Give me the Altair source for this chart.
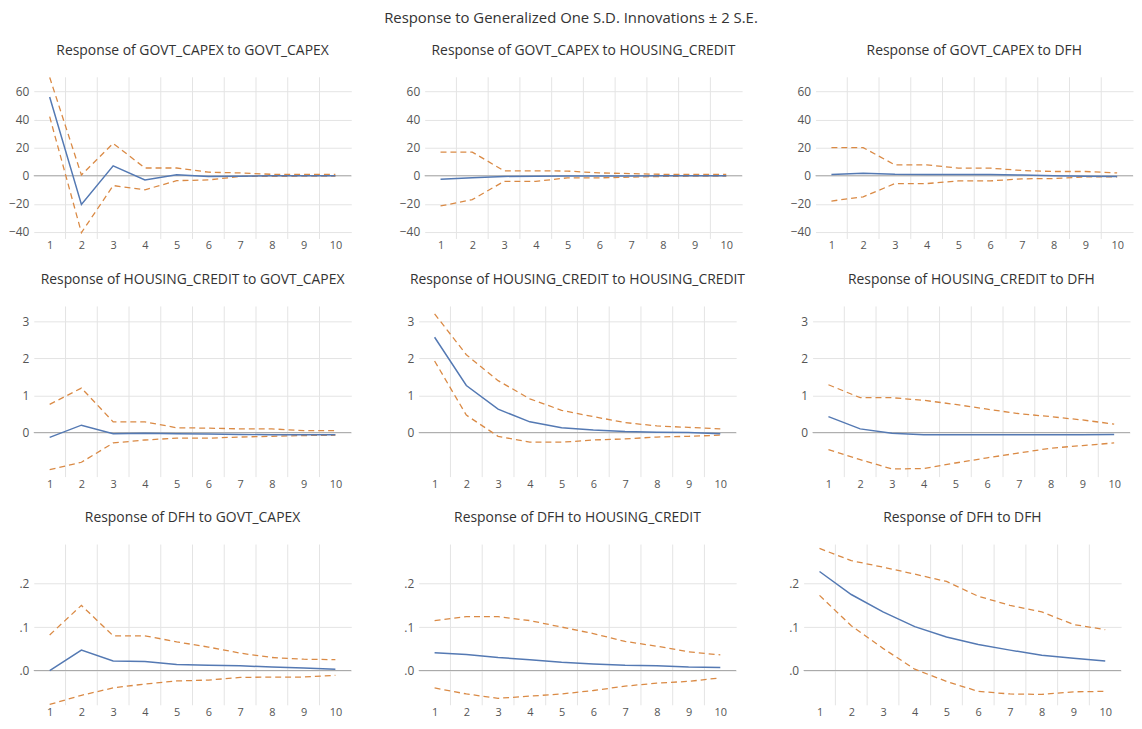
import altair as alt
import pandas as pd

steps = list(range(1, 11))

titles = [
    "Response of GOVT_CAPEX to GOVT_CAPEX",
    "Response of GOVT_CAPEX to HOUSING_CREDIT",
    "Response of GOVT_CAPEX to DFH",
    "Response of HOUSING_CREDIT to GOVT_CAPEX",
    "Response of HOUSING_CREDIT to HOUSING_CREDIT",
    "Response of HOUSING_CREDIT to DFH",
    "Response of DFH to GOVT_CAPEX",
    "Response of DFH to HOUSING_CREDIT",
    "Response of DFH to DFH",
]

resp = [
    [56, -20.5, 7, -3, 0.7, -0.5, -0.3, 0, 0, 0],
    [-2.5, -1.5, -0.5, -0.3, -0.2, -0.2, -0.2, -0.1, -0.1, -0.1],
    [0.8, 1.8, 1.0, 0.8, 0.8, 0.8, 0.5, 0, -0.3, -0.5],
    [-0.13, 0.2, -0.03, -0.02, -0.03, -0.04, -0.05, -0.06, -0.06, -0.06],
    [2.57, 1.27, 0.63, 0.29, 0.13, 0.07, 0.03, 0.01, 0.0, -0.03],
    [0.43, 0.1, -0.02, -0.06, -0.06, -0.06, -0.06, -0.06, -0.06, -0.05],
    [0.0, 0.047, 0.022, 0.021, 0.014, 0.012, 0.011, 0.008, 0.006, 0.003],
    [0.041, 0.037, 0.030, 0.025, 0.019, 0.015, 0.012, 0.011, 0.008, 0.007],
    [0.228, 0.175, 0.135, 0.101, 0.077, 0.060, 0.047, 0.035, 0.028, 0.022],
]

upper = [
    [70, 0.5, 23, 5.5, 5.5, 2.5, 2, 1, 1, 1],
    [16.8, 16.8, 3.5, 3.5, 3.3, 2, 1.5, 1, 1, 1],
    [20, 20, 7.7, 7.7, 5.4, 5.4, 3.7, 3, 3, 2],
    [0.76, 1.2, 0.29, 0.29, 0.13, 0.12, 0.1, 0.1, 0.05, 0.05],
    [3.2, 2.1, 1.4, 0.91, 0.6, 0.43, 0.27, 0.18, 0.14, 0.1],
    [1.29, 0.94, 0.94, 0.87, 0.76, 0.63, 0.51, 0.43, 0.34, 0.23],
    [0.082, 0.15, 0.08, 0.08, 0.066, 0.054, 0.04, 0.03, 0.026, 0.025],
    [0.115, 0.124, 0.124, 0.115, 0.1, 0.085, 0.067, 0.056, 0.043, 0.036],
    [0.281, 0.253, 0.238, 0.222, 0.205, 0.171, 0.15, 0.135, 0.106, 0.094],
]

lower = [
    [42, -40.5, -7, -10, -3.5, -3, -0.5, -0.5, -0.3, -0.3],
    [-21.5, -17, -4, -4, -1.5, -1.5, -1, -0.5, -0.3, -0.3],
    [-18, -15, -5.6, -5.6, -3.7, -3.7, -2.2, -2, -0.8, -0.8],
    [-1.0, -0.8, -0.28, -0.2, -0.15, -0.15, -0.12, -0.1, -0.08, -0.07],
    [1.93, 0.47, -0.1, -0.26, -0.26, -0.2, -0.17, -0.12, -0.1, -0.07],
    [-0.46, -0.73, -0.98, -0.97, -0.82, -0.68, -0.55, -0.42, -0.35, -0.28],
    [-0.078, -0.057, -0.04, -0.031, -0.024, -0.022, -0.016, -0.015, -0.015, -0.011],
    [-0.04, -0.054, -0.064, -0.059, -0.054, -0.046, -0.036, -0.029, -0.025, -0.017],
    [0.173, 0.103, 0.051, 0.003, -0.025, -0.048, -0.054, -0.055, -0.049, -0.048],
]

row_domains = [[-45, 70], [-1.2, 3.4], [-0.08, 0.29]]
row_ticks = [[-40, -20, 0, 20, 40, 60], [0, 1, 2, 3], [0, 0.1, 0.2]]
row_label_expr = [
    "format(datum.value, 'd')",
    "format(datum.value, 'd')",
    "substring(format(datum.value, '.1f'), 1)",
]
row_heights = [163, 172, 162]
half_steps = [s + 0.5 for s in steps[:-1]]

FONT = "Open Sans"
BLUE = "#5479B3"
ORANGE = "#DA8A45"
GRID = "#E4E4E4"
ZERO = "#A8A8A8"


def panel(i, j):
    k = i * 3 + j
    df = pd.DataFrame({
        "step": steps * 3,
        "value": resp[k] + upper[k] + lower[k],
        "series": ["Response"] * 10 + ["Upper"] * 10 + ["Lower"] * 10,
    })
    xscale = alt.Scale(domain=[0.5, 10.5], nice=False, zero=False)
    yscale = alt.Scale(domain=row_domains[i], nice=False, zero=False)
    x = alt.X("step:Q", scale=xscale,
              axis=alt.Axis(values=steps, grid=False, ticks=False, domain=False,
                            labelPadding=1, labelFontSize=11, title=None,
                            format="d"))
    y = alt.Y("value:Q", scale=yscale,
              axis=alt.Axis(values=row_ticks[i], grid=True, gridColor=GRID,
                            ticks=False, domain=False, title=None,
                            labelExpr=row_label_expr[i], minExtent=20,
                            maxExtent=20, labelPadding=5))
    vgrid = alt.Chart(pd.DataFrame({"step": half_steps})).mark_rule(
        color=GRID, strokeWidth=1).encode(x=x)
    zero = alt.Chart(pd.DataFrame({"value": [0]})).mark_rule(
        color=ZERO, strokeWidth=1).encode(y=y)
    base = alt.Chart(df)
    bands = base.transform_filter("datum.series != 'Response'").mark_line(
        color=ORANGE, strokeDash=[6, 4], strokeWidth=1.3, clip=True).encode(
        x=x, y=y, detail="series:N")
    line = base.transform_filter("datum.series == 'Response'").mark_line(
        color=BLUE, strokeWidth=1.5, clip=True).encode(x=x, y=y)
    return alt.layer(vgrid, zero, bands, line).properties(
        width=320, height=row_heights[i],
        title=alt.TitleParams(titles[k], fontSize=14, fontWeight="normal",
                              color="#333333", offset=19, font=FONT))


rows = [alt.hconcat(*[panel(i, j) for j in range(3)], spacing=47)
        for i in range(3)]

chart = alt.vconcat(*rows, spacing=22).properties(
    title=alt.TitleParams("Response to Generalized One S.D. Innovations \u00b1 2 S.E.",
                          fontSize=15, fontWeight="normal", color="#333333",
                          anchor="middle", offset=18, font=FONT),
    padding={"left": 0, "top": 0, "right": 0, "bottom": 0},
).configure_view(stroke=None).configure_axis(
    labelFont=FONT, labelFontSize=12, labelColor="#555555"
)

chart.save("out.html", embed_options={"renderer": "svg", "actions": False})
